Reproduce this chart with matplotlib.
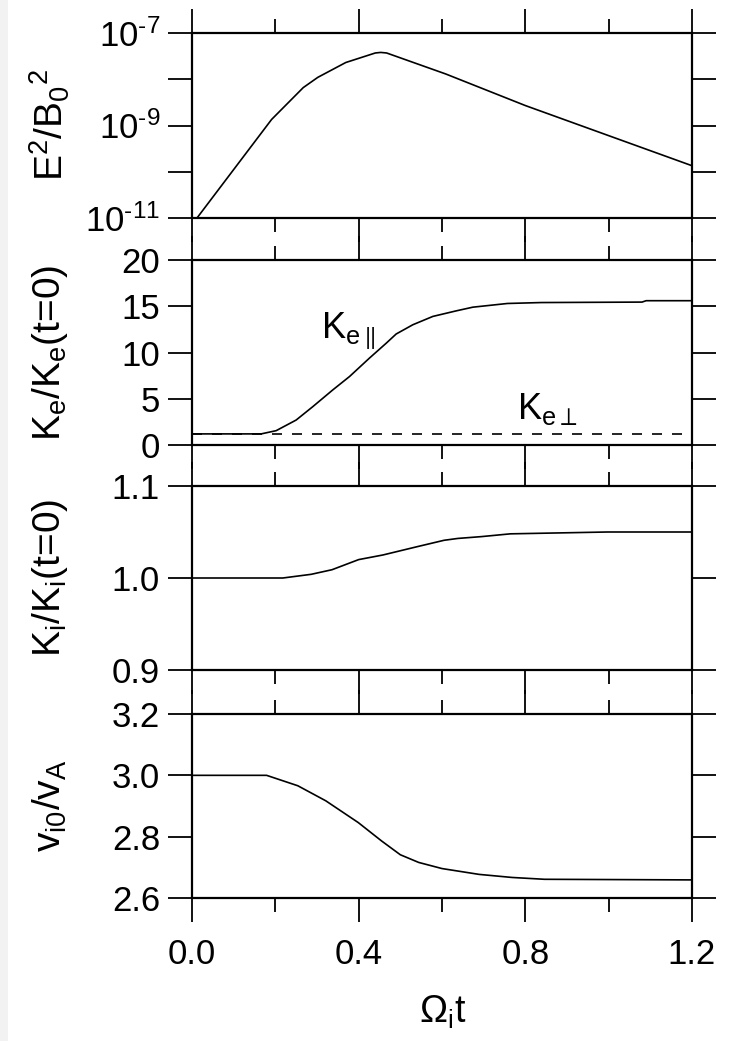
import matplotlib
matplotlib.use("Agg")
from matplotlib import pyplot as plt
from matplotlib.ticker import FixedLocator, NullFormatter, FixedFormatter
from matplotlib.patches import Rectangle

plt.rcParams['font.family'] = ['Liberation Sans', 'DejaVu Sans']
plt.rcParams['mathtext.fontset'] = 'custom'
plt.rcParams['mathtext.rm'] = 'Liberation Sans'
plt.rcParams['mathtext.it'] = 'Liberation Sans'
plt.rcParams['mathtext.default'] = 'regular'
plt.rcParams['mathtext.fallback'] = 'stixsans'
plt.rcParams['font.size'] = 25

# field energy E^2/B0^2
t_E = [0.012, 0.191, 0.267, 0.302, 0.369, 0.44, 0.453, 0.467, 0.609, 0.8, 1.003, 1.2]
E2 = [1.0e-11, 1.35e-9, 6.6e-9, 1.1e-8, 2.3e-8, 3.7e-8, 3.8e-8, 3.7e-8, 1.3e-8, 2.7e-9, 5.9e-10, 1.35e-10]

# electron kinetic energies
t_Kpar = [0.0, 0.166, 0.202, 0.25, 0.29, 0.338, 0.378, 0.426, 0.466, 0.49, 0.53, 0.578,
          0.634, 0.674, 0.757, 0.838, 1.08, 1.09, 1.2]
Kpar = [1.2, 1.2, 1.55, 2.7, 4.15, 5.96, 7.4, 9.4, 11.0, 12.0, 13.0, 13.9,
        14.5, 14.9, 15.3, 15.4, 15.45, 15.6, 15.6]
t_Kperp = [0.0, 1.2]
Kperp = [1.2, 1.2]

# ion kinetic energy
t_Ki = [0.0, 0.218, 0.286, 0.336, 0.4, 0.458, 0.54, 0.605, 0.638, 0.695, 0.764, 0.997, 1.2]
Ki = [1.0, 1.0, 1.004, 1.009, 1.020, 1.025, 1.034, 1.041, 1.043, 1.045, 1.048, 1.050, 1.050]

# ion drift speed
t_v = [0.0, 0.179, 0.254, 0.321, 0.399, 0.455, 0.5, 0.544, 0.6, 0.689, 0.768, 0.846, 1.2]
vi0 = [3.0, 3.0, 2.966, 2.917, 2.846, 2.786, 2.741, 2.716, 2.696, 2.677, 2.667, 2.661, 2.659]

xticks = [0.0, 0.4, 0.8, 1.2]
xminor = [0.2, 0.6, 1.0]
xticklabels = ['0.0', '0.4', '0.8', '1.2']

W, H = 729, 1041
fig = plt.figure(figsize=(W / 100, H / 100), dpi=100)
fig.patches.append(Rectangle((0, 0), 8 / W, 1, transform=fig.transFigure,
                             facecolor='#f2f2f2', edgecolor='none', zorder=-5))

left = 192 / W
width = 500 / W
panels = [(33, 218), (260, 445), (486, 670), (714, 898)]
axes = []
for top, bot in panels:
    ax = fig.add_axes([left, 1 - bot / H, width, (bot - top) / H])
    axes.append(ax)

ylabels = [r'$E^2/B_0{}^2$', r'$K_e/K_e$(t=0)', r'$K_i/K_i$(t=0)', r'$v_{i0}/v_A$']

for i, ax in enumerate(axes):
    ax.set_xlim(0, 1.2)
    ax.xaxis.set_major_locator(FixedLocator(xticks))
    ax.xaxis.set_minor_locator(FixedLocator(xminor))
    ax.xaxis.set_major_formatter(FixedFormatter(xticklabels))
    ax.tick_params(which='both', direction='out', top=True, right=True,
                   width=1.3, labelsize=25, pad=6)
    ax.tick_params(which='major', length=17)
    ax.tick_params(which='minor', length=10)
    ax.tick_params(axis='x', which='both', labeltop=False, labelbottom=(i == 3), pad=12)
    for sp in ax.spines.values():
        sp.set_linewidth(1.6)
    top, bot = panels[i]
    fig.text(50 / W, 1 - (top + bot) / 2 / H, ylabels[i], rotation=90,
             ha='center', va='center', fontsize=28)

ax1, ax2, ax3, ax4 = axes

ax1.semilogy(t_E, E2, color='black', lw=1.2)
ax1.set_ylim(1e-11, 1e-7)
ax1.yaxis.set_major_locator(FixedLocator([1e-11, 1e-10, 1e-9, 1e-8, 1e-7]))
ax1.yaxis.set_major_formatter(FixedFormatter(['$10^{\u201011}$', '', '$10^{\u20109}$', '',
                                              '$10^{\u20107}$']))
ax1.yaxis.set_minor_locator(FixedLocator([]))
ax1.yaxis.set_minor_formatter(NullFormatter())

ax2.plot(t_Kpar, Kpar, color='black', lw=1.2)
ax2.plot(t_Kperp, Kperp, color='black', lw=1.2, ls=(0, (6, 6)))
ax2.set_ylim(0, 20)
ax2.yaxis.set_major_locator(FixedLocator([0, 5, 10, 15, 20]))
ax2.text(0.31, 12.3, r'$K_{e\parallel}$', fontsize=26, ha='left', va='center')
ax2.text(0.78, 3.9, r'$K_{e\perp}$', fontsize=26, ha='left', va='center')

ax3.plot(t_Ki, Ki, color='black', lw=1.2)
ax3.set_ylim(0.9, 1.1)
ax3.yaxis.set_major_locator(FixedLocator([0.9, 1.0, 1.1]))
ax3.yaxis.set_major_formatter(FixedFormatter(['0.9', '1.0', '1.1']))

ax4.plot(t_v, vi0, color='black', lw=1.2)
ax4.set_ylim(2.6, 3.2)
ax4.yaxis.set_major_locator(FixedLocator([2.6, 2.8, 3.0, 3.2]))
ax4.yaxis.set_major_formatter(FixedFormatter(['2.6', '2.8', '3.0', '3.2']))

fig.text(443 / W, 1 - 1012 / H, r'$\Omega_i$t', ha='center', va='center', fontsize=27)

fig.savefig("out.png", dpi=100)
